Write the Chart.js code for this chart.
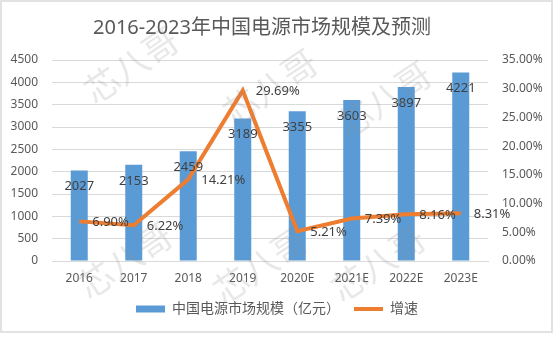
<!DOCTYPE html>
<html>
<head>
<meta charset="utf-8">
<script src="https://cdn.jsdelivr.net/npm/chart.js@4/dist/chart.umd.min.js"></script>
<style>
  html, body { margin: 0; padding: 0; background: #ffffff; }
  #wrap { position: relative; width: 554px; height: 349px; }
</style>
</head>
<body>
<div id="wrap"><canvas id="c" width="554" height="349"></canvas></div>
<script>
const titleText = '2016-2023年中国电源市场规模及预测';
const categories = ['2016', '2017', '2018', '2019', '2020E', '2021E', '2022E', '2023E'];
const marketSize = [2027, 2153, 2459, 3189, 3355, 3603, 3897, 4221];
const growthRate = [6.90, 6.22, 14.21, 29.69, 5.21, 7.39, 8.16, 8.31];
const barLabel = '中国电源市场规模（亿元）';
const lineLabel = '增速';
const watermarkText = '芯八哥';

const FONT = "'Noto Sans', 'Noto Sans CJK SC', sans-serif";
const BLUE = '#5B9BD5';
const ORANGE = '#ED7D31';
const TEXT = '#595959';
const LABEL = '#404040';
const GRID = '#D9D9D9';

const framePlugin = {
  id: 'frame',
  beforeDraw(chart) {
    const ctx = chart.ctx;
    ctx.save();
    ctx.fillStyle = '#ffffff';
    ctx.fillRect(0, 0, chart.width, chart.height);
    ctx.strokeStyle = '#D9D9D9';
    ctx.lineWidth = 1.5;
    ctx.strokeRect(1, 1, 551, 331);
    ctx.fillStyle = TEXT;
    ctx.font = '20px ' + FONT;
    ctx.textAlign = 'center';
    ctx.textBaseline = 'middle';
    ctx.fillText(titleText, 262, 28);
    ctx.restore();
  }
};

const labelPlugin = {
  id: 'valueLabels',
  afterDatasetsDraw(chart) {
    const ctx = chart.ctx;
    ctx.save();
    ctx.font = '13px ' + FONT;
    ctx.fillStyle = LABEL;
    ctx.textBaseline = 'middle';
    const barMeta = chart.getDatasetMeta(0);
    ctx.textAlign = 'center';
    barMeta.data.forEach((el, i) => {
      ctx.fillText(String(marketSize[i]), el.x, el.y + 16);
    });
    const lineMeta = chart.getDatasetMeta(1);
    ctx.textAlign = 'left';
    lineMeta.data.forEach((el, i) => {
      ctx.fillText(growthRate[i].toFixed(2) + '%', el.x + 13, el.y + 1);
    });
    ctx.restore();
  }
};

const watermarkPlugin = {
  id: 'watermark',
  afterDraw(chart) {
    const ctx = chart.ctx;
    const spots = [[133, 68], [272, 90], [386, 102], [127, 263], [262, 268], [380, 266]];
    ctx.save();
    ctx.font = '35px ' + FONT;
    ctx.fillStyle = 'rgba(140,140,140,0.2)';
    ctx.textAlign = 'center';
    ctx.textBaseline = 'middle';
    spots.forEach(([x, y]) => {
      ctx.save();
      ctx.translate(x, y);
      ctx.rotate(-34 * Math.PI / 180);
      ctx.fillText(watermarkText, 0, 0);
      ctx.restore();
    });
    ctx.restore();
  }
};

new Chart(document.getElementById('c'), {
  data: {
    labels: categories,
    datasets: [
      {
        type: 'bar',
        label: barLabel,
        data: marketSize,
        backgroundColor: BLUE,
        borderWidth: 0,
        yAxisID: 'y',
        categoryPercentage: 1,
        barPercentage: 0.312,
        order: 2
      },
      {
        type: 'line',
        label: lineLabel,
        data: growthRate,
        borderColor: ORANGE,
        backgroundColor: ORANGE,
        borderWidth: 4,
        pointRadius: 0,
        tension: 0,
        yAxisID: 'y1',
        order: 1
      }
    ]
  },
  options: {
    responsive: false,
    animation: false,
    devicePixelRatio: 1,
    layout: { padding: { top: 60, left: 0, right: 0, bottom: 23 } },
    plugins: {
      title: { display: false },
      tooltip: { enabled: false },
      legend: {
        display: true,
        position: 'bottom',
        labels: {
          font: { family: FONT, size: 14 },
          color: TEXT,
          usePointStyle: true,
          pointStyleWidth: 29,
          boxHeight: 7,
          padding: 14,
          generateLabels(chart) {
            return [
              { text: barLabel, fillStyle: BLUE, strokeStyle: BLUE, lineWidth: 0, pointStyle: 'rect', datasetIndex: 0, fontColor: TEXT },
              { text: lineLabel, fillStyle: ORANGE, strokeStyle: ORANGE, lineWidth: 4, pointStyle: 'line', datasetIndex: 1, fontColor: TEXT }
            ];
          }
        }
      }
    },
    scales: {
      x: {
        grid: { display: false, drawTicks: false },
        border: { display: true, color: GRID, width: 1 },
        ticks: { color: TEXT, font: { family: FONT, size: 12 }, padding: 10, maxRotation: 0 },
        afterFit(scale) { scale.height = 27; }
      },
      y: {
        position: 'left',
        min: 0, max: 4500,
        ticks: { stepSize: 500, color: TEXT, font: { family: FONT, size: 12 }, padding: 14,
          callback: (v) => String(v) },
        grid: { color: GRID, lineWidth: 1, drawTicks: false },
        border: { display: false },
        afterFit(scale) { scale.width = 52; }
      },
      y1: {
        position: 'right',
        min: 0, max: 35,
        ticks: {
          stepSize: 5, color: TEXT, font: { family: FONT, size: 12 }, padding: 14,
          callback: (v) => Number(v).toFixed(2) + '%'
        },
        grid: { drawOnChartArea: false, drawTicks: false },
        border: { display: false },
        afterFit(scale) { scale.width = 66; }
      }
    }
  },
  plugins: [framePlugin, labelPlugin, watermarkPlugin]
});
</script>
</body>
</html>
